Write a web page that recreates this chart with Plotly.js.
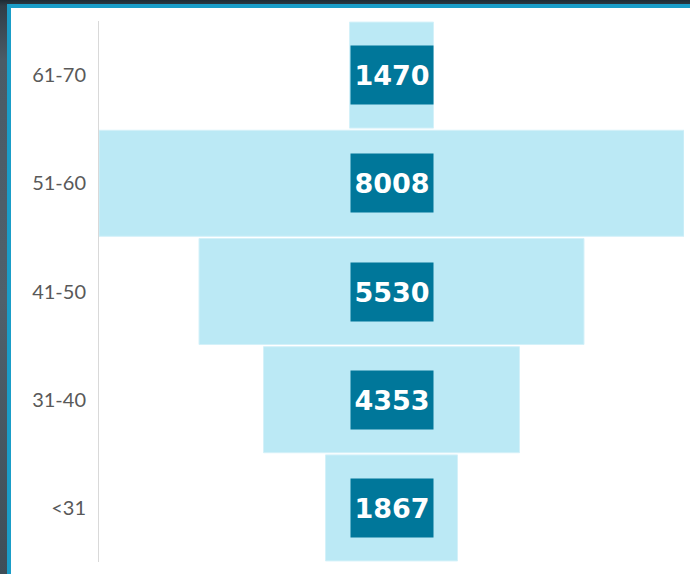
<!DOCTYPE html>
<html>
<head>
<meta charset="utf-8">
<script src="https://cdn.plot.ly/plotly-3.0.1.min.js"></script>
<style>
  html, body { margin: 0; padding: 0; width: 690px; height: 574px; overflow: hidden; }
  body {
    background: linear-gradient(180deg, #1e2b34 0px, #2f3e48 6px, #4a5b66 60px, #4f606b 300px, #3e4e58 574px);
    position: relative;
  }
  #panel {
    position: absolute; left: 7px; top: 4px; right: 0; bottom: 0;
    background: #ffffff;
    border-left: 4px solid #1a9dc8;
    border-top: 4px solid #1a9dc8;
  }
  #chart { position: absolute; left: 0; top: 0; width: 690px; height: 574px; }
</style>
</head>
<body>
<div id="panel"></div>
<div id="chart"></div>
<script>
// Age groups, bottom to top
const categories = ['<31', '31-40', '41-50', '51-60', '61-70'];
// Values shown in the data labels
const labelValues = [1867, 4353, 5530, 8008, 1470];
// Bar lengths as drawn in the picture (same units)
const barLengths = [1807, 3504, 5270, 8008, 1150];

const maxLen = Math.max(...barLengths);

const trace = {
  type: 'bar',
  orientation: 'h',
  y: categories,
  x: barLengths,
  base: barLengths.map(v => -v / 2),
  marker: { color: '#bbe9f5', line: { color: '#d4f1f9', width: 1 } },
  hoverinfo: 'skip',
  showlegend: false
};

const annotations = categories.map((c, i) => ({
  x: 0, y: c, xref: 'x', yref: 'y',
  text: String(labelValues[i]),
  showarrow: false,
  bgcolor: '#00779a',
  width: 80, height: 56, borderpad: 1,
  font: { family: 'DejaVu Sans', size: 27, color: '#ffffff', weight: 'bold' },
  xanchor: 'center', yanchor: 'middle', valign: 'middle', align: 'center'
}));

const layout = {
  width: 690, height: 574,
  margin: { l: 99, r: 6, t: 21, b: 12, pad: 0 },
  paper_bgcolor: 'rgba(0,0,0,0)',
  plot_bgcolor: 'rgba(0,0,0,0)',
  bargap: 0.02,
  xaxis: { visible: false, range: [-maxLen / 2, maxLen / 2], fixedrange: true },
  yaxis: {
    type: 'category',
    showline: true, linecolor: '#d9d9d9', linewidth: 1,
    showgrid: false, zeroline: false, ticks: '',
    ticklabelstandoff: 8,
    tickfont: { family: 'Lato', size: 20, color: '#595959' },
    fixedrange: true
  },
  annotations: annotations,
  showlegend: false
};

Plotly.newPlot('chart', [trace], layout, { displayModeBar: false, staticPlot: true });
</script>
</body>
</html>
